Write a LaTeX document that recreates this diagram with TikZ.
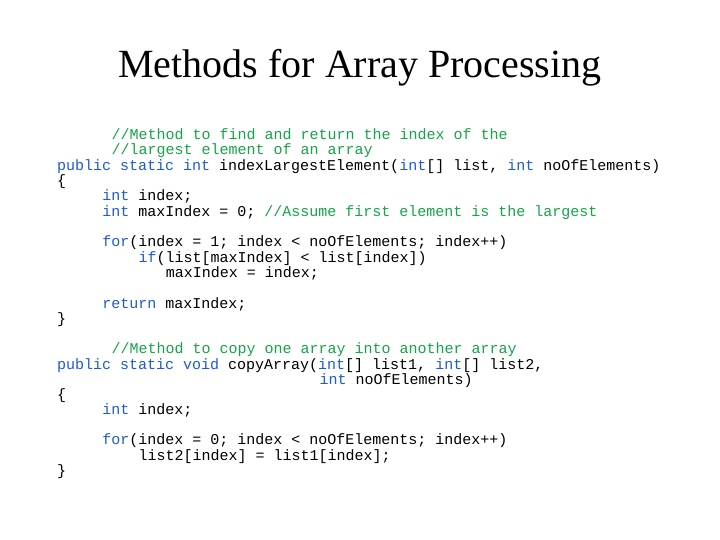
\documentclass[tikz,border=0pt]{standalone}
\usepackage{fontspec}
\setmainfont{Liberation Serif}
\setmonofont{Liberation Mono}
\definecolor{cm}{RGB}{20,165,70}
\definecolor{kw}{RGB}{30,90,210}
\newcommand{\K}[1]{\textcolor{kw}{#1}}
\newcommand{\C}[1]{\textcolor{cm}{#1}}
\begin{document}
\begin{tikzpicture}[x=1pt,y=1pt,
  code/.style={anchor=base west,inner sep=0pt,font=\ttfamily\fontsize{15}{15}\selectfont}]
\useasboundingbox (0,0) rectangle (720,-540);
\node[font=\fontsize{40}{40}\selectfont] (title) at (360,-68) {Methods for Array Processing};
\def\cw{9.05}
\node[code] (l1) at (57+6*\cw,-140) {\C{//Method to find and return the index of the}};
\node[code] (l2) at (57+6*\cw,-155) {\C{//largest element of an array}};
\node[code] (l3) at (57,-171) {\K{public static int} indexLargestElement(\K{int}[] list, \K{int} noOfElements)};
\node[code] (l4) at (57,-186) {\{};
\node[code] (l5) at (57+5*\cw,-201) {\K{int} index;};
\node[code] (l6) at (57+5*\cw,-216) {\K{int} maxIndex = 0; \C{//Assume first element is the largest}};
\node[code] (l7) at (57+5*\cw,-246) {\K{for}(index = 1; index < noOfElements; index++)};
\node[code] (l8) at (57+9*\cw,-262) {\K{if}(list[maxIndex] < list[index])};
\node[code] (l9) at (57+12*\cw,-277) {maxIndex = index;};
\node[code] (l10) at (57+5*\cw,-308) {\K{return} maxIndex;};
\node[code] (l11) at (57,-323) {\}};
\node[code] (l12) at (57+6*\cw,-353) {\C{//Method to copy one array into another array}};
\node[code] (l13) at (57,-369) {\K{public static void} copyArray(\K{int}[] list1, \K{int}[] list2,};
\node[code] (l14) at (57+29*\cw,-384) {\K{int} noOfElements)};
\node[code] (l15) at (57,-399) {\{};
\node[code] (l16) at (57+5*\cw,-414) {\K{int} index;};
\node[code] (l17) at (57+5*\cw,-444) {\K{for}(index = 0; index < noOfElements; index++)};
\node[code] (l18) at (57+9*\cw,-460) {list2[index] = list1[index];};
\node[code] (l19) at (57,-475) {\}};
\end{tikzpicture}
\end{document}
